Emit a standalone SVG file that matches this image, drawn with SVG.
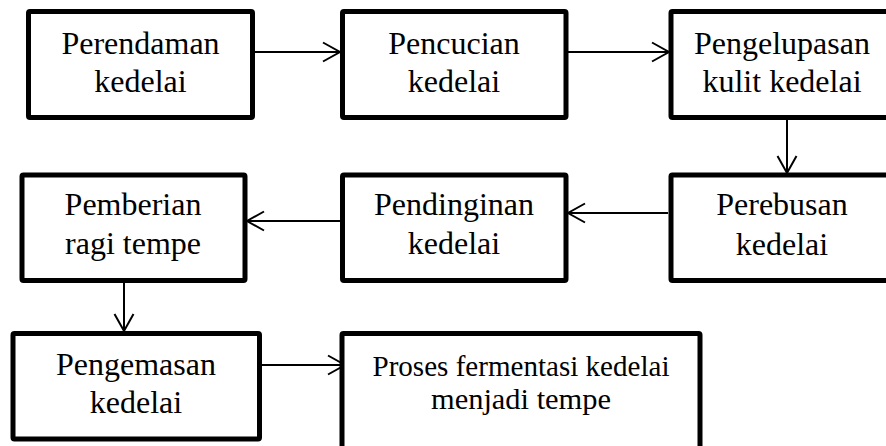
<svg xmlns="http://www.w3.org/2000/svg" width="886" height="446" viewBox="0 0 886 446">
<style>
.box{fill:#fff;stroke:#000;stroke-width:5;stroke-linejoin:round}
.t{font-family:"Liberation Serif","Times New Roman",serif;font-size:32px;fill:#000;text-anchor:middle}
.s{font-size:29px}
.c{fill:none;stroke:#000;stroke-width:2}
</style>
<defs>
<marker id="ah" markerUnits="userSpaceOnUse" markerWidth="24" markerHeight="24" viewBox="-20 -12 22 24" refX="0" refY="0" orient="auto">
<path d="M-17,-9.5 L0,0 L-17,9.5" fill="none" stroke="#000" stroke-width="2"/>
</marker>
</defs>
<rect width="886" height="446" fill="#fff"/>
<g id="connectors">
<line class="c" x1="255" y1="52" x2="340" y2="52" marker-end="url(#ah)"/>
<line class="c" x1="568" y1="52" x2="669" y2="52" marker-end="url(#ah)"/>
<line class="c" x1="787" y1="120" x2="787" y2="173" marker-end="url(#ah)"/>
<line class="c" x1="668" y1="213" x2="568" y2="213" marker-end="url(#ah)"/>
<line class="c" x1="340" y1="221" x2="247" y2="221" marker-end="url(#ah)"/>
<line class="c" x1="124" y1="283" x2="124" y2="331" marker-end="url(#ah)"/>
<line class="c" x1="262" y1="365" x2="345" y2="365" marker-end="url(#ah)"/>
</g>
<g id="n1">
<rect class="box" x="28.5" y="11.5" width="224" height="106" rx="1.5"/>
<text class="t" x="140.5" y="54">Perendaman</text>
<text class="t" x="140.5" y="92">kedelai</text>
</g>
<g id="n2">
<rect class="box" x="342.5" y="11.5" width="223.5" height="106" rx="1.5"/>
<text class="t" x="454" y="54">Pencucian</text>
<text class="t" x="454" y="92">kedelai</text>
</g>
<g id="n3">
<rect class="box" x="671" y="11.5" width="224" height="106" rx="1.5"/>
<text class="t" x="782" y="54">Pengelupasan</text>
<text class="t" x="782" y="92">kulit kedelai</text>
</g>
<g id="n4">
<rect class="box" x="22" y="175" width="223" height="105.5" rx="1.5"/>
<text class="t" x="133" y="215">Pemberian</text>
<text class="t" x="133" y="254">ragi tempe</text>
</g>
<g id="n5">
<rect class="box" x="342.5" y="175" width="223.5" height="105.5" rx="1.5"/>
<text class="t" x="454" y="215">Pendinginan</text>
<text class="t" x="454" y="254">kedelai</text>
</g>
<g id="n6">
<rect class="box" x="671" y="175" width="224" height="105.5" rx="1.5"/>
<text class="t" x="782" y="215">Perebusan</text>
<text class="t" x="782" y="255">kedelai</text>
</g>
<g id="n7">
<rect class="box" x="13" y="333.5" width="246.5" height="105.5" rx="1.5"/>
<text class="t" x="136" y="375">Pengemasan</text>
<text class="t" x="136" y="413">kedelai</text>
</g>
<g id="n8">
<rect class="box" x="342" y="333.5" width="358" height="115" rx="1.5"/>
<text class="t s" x="521" y="376" textLength="297" lengthAdjust="spacingAndGlyphs">Proses fermentasi kedelai</text>
<text class="t s" x="521" y="409" textLength="180" lengthAdjust="spacingAndGlyphs">menjadi tempe</text>
</g>
</svg>
